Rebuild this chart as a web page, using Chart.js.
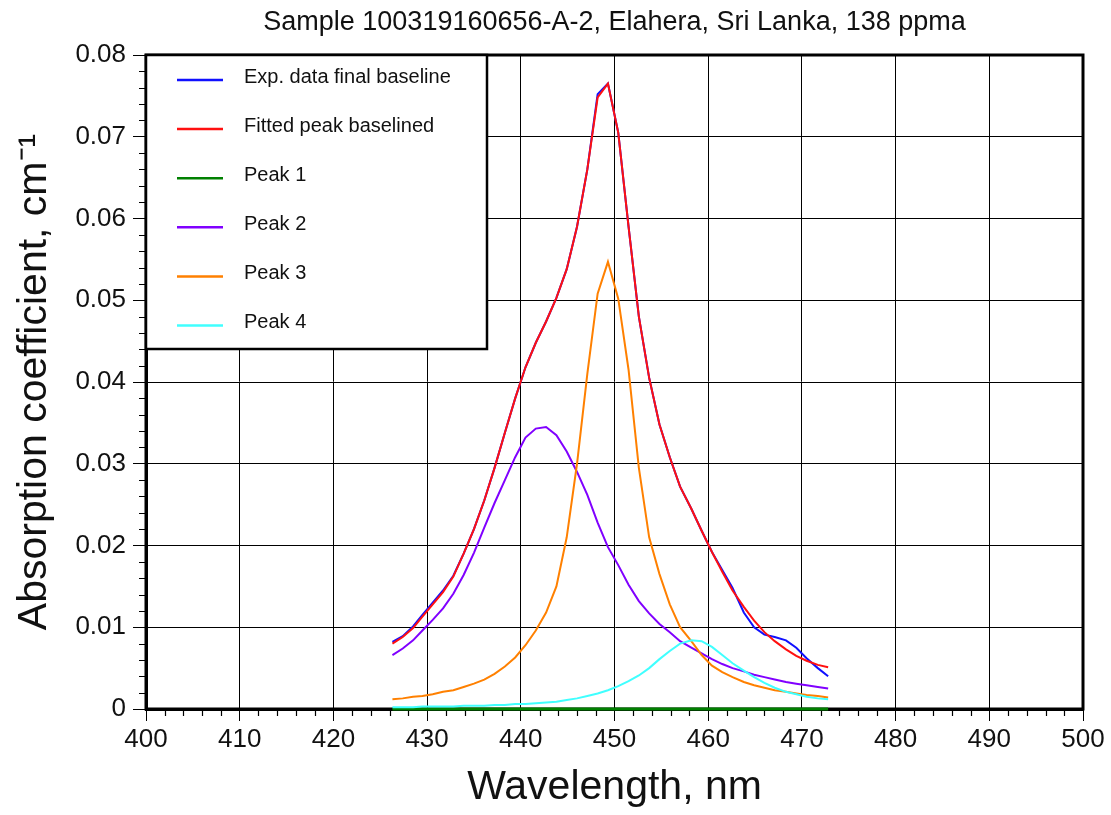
<!DOCTYPE html>
<html>
<head>
<meta charset="utf-8">
<script src="https://cdn.jsdelivr.net/npm/chart.js@4.4.1/dist/chart.umd.min.js"></script>
<style>
	html, body { margin: 0; padding: 0; background: #fff; }
	#wrap { width: 1111px; height: 815px; }
</style>
</head>
<body>
<div id="wrap"><canvas id="spectrum" width="1111" height="815"></canvas></div>
<script>
var titleText = 'Sample 100319160656-A-2, Elahera, Sri Lanka, 138 ppma';

var wavelength = [426.3, 427.4, 428.5, 429.5, 430.6, 431.7, 432.8, 433.9, 435.0, 436.1,
	437.2, 438.3, 439.4, 440.5, 441.6, 442.7, 443.8, 444.9, 446.0, 447.1,
	448.2, 449.3, 450.4, 451.5, 452.6, 453.7, 454.8, 455.9, 457.0, 458.2,
	459.3, 460.4, 461.5, 462.6, 463.8, 464.9, 466.0, 467.1, 468.3, 469.4,
	470.5, 471.7, 472.8];

var expData = [0.0082, 0.0089, 0.0101, 0.0115, 0.0130, 0.0145, 0.0163, 0.0190, 0.0220, 0.0255,
	0.0295, 0.0338, 0.0380, 0.0418, 0.0448, 0.0474, 0.0503, 0.0538, 0.0590, 0.0660,
	0.0752, 0.0765, 0.0705, 0.0590, 0.0480, 0.0405, 0.0348, 0.0308, 0.0272, 0.0245,
	0.0218, 0.0192, 0.0170, 0.0148, 0.0118, 0.0100, 0.0091, 0.0088, 0.0084, 0.0075,
	0.0062, 0.0050, 0.0040];

var fittedPeak = [0.0080, 0.0088, 0.0099, 0.0113, 0.0128, 0.0143, 0.0162, 0.0190, 0.0220, 0.0255,
	0.0295, 0.0338, 0.0380, 0.0418, 0.0448, 0.0474, 0.0503, 0.0538, 0.0590, 0.0660,
	0.0748, 0.0765, 0.0705, 0.0590, 0.0480, 0.0405, 0.0348, 0.0308, 0.0272, 0.0245,
	0.0218, 0.0192, 0.0168, 0.0145, 0.0125, 0.0108, 0.0094, 0.0083, 0.0073, 0.0065,
	0.0059, 0.0054, 0.0051];

var peak1 = [0, 0, 0, 0, 0, 0, 0, 0, 0, 0,
	0, 0, 0, 0, 0, 0, 0, 0, 0, 0,
	0, 0, 0, 0, 0, 0, 0, 0, 0, 0,
	0, 0, 0, 0, 0, 0, 0, 0, 0, 0,
	0, 0, 0];

var peak2 = [0.0066, 0.0074, 0.0084, 0.0096, 0.0109, 0.0123, 0.0141, 0.0164, 0.0191, 0.0222,
	0.0252, 0.0280, 0.0308, 0.0332, 0.0343, 0.0345, 0.0335, 0.0315, 0.0290, 0.0262,
	0.0228, 0.0198, 0.0176, 0.0152, 0.0132, 0.0117, 0.0104, 0.0094, 0.0083, 0.0075,
	0.0068, 0.0061, 0.0055, 0.0050, 0.0046, 0.0042, 0.0039, 0.0036, 0.0033, 0.0031,
	0.0029, 0.0027, 0.0025];

var peak3 = [0.0012, 0.0013, 0.0015, 0.0016, 0.0018, 0.0021, 0.0023, 0.0027, 0.0031, 0.0036,
	0.0043, 0.0052, 0.0063, 0.0078, 0.0096, 0.0118, 0.0150, 0.0210, 0.0300, 0.0410,
	0.0508, 0.0547, 0.0502, 0.0415, 0.0295, 0.0210, 0.0165, 0.0128, 0.0100, 0.0083,
	0.0066, 0.0053, 0.0045, 0.0039, 0.0033, 0.0029, 0.0026, 0.0023, 0.0021, 0.0019,
	0.0017, 0.0016, 0.0014];

var peak4 = [0.0002, 0.0002, 0.0002, 0.0003, 0.0003, 0.0003, 0.0003, 0.0004, 0.0004, 0.0004,
	0.0005, 0.0005, 0.0006, 0.0006, 0.0007, 0.0008, 0.0009, 0.0011, 0.0013, 0.0016,
	0.0019, 0.0023, 0.0028, 0.0034, 0.0041, 0.0050, 0.0061, 0.0071, 0.0080, 0.0084,
	0.0083, 0.0076, 0.0066, 0.0056, 0.0047, 0.0039, 0.0032, 0.0026, 0.0021, 0.0018,
	0.0015, 0.0013, 0.0012];

var seriesNames = ['Exp. data final baseline', 'Fitted peak baselined', 'Peak 1', 'Peak 2', 'Peak 3', 'Peak 4'];
var seriesColours = ['#1010ff', '#ff1010', '#008000', '#8000ff', '#ff8000', '#40ffff'];
var seriesValues = [expData, fittedPeak, peak1, peak2, peak3, peak4];

var xTicks = [400, 410, 420, 430, 440, 450, 460, 470, 480, 490, 500];
var yTicks = [0, 0.01, 0.02, 0.03, 0.04, 0.05, 0.06, 0.07, 0.08];

var fontFamily = "'Liberation Sans', Arial, Helvetica, sans-serif";

var toPoints = function(values) {
	var points = [];
	for (var i = 0; i < wavelength.length; i++) {
		points.push({ x: wavelength[i], y: values[i] });
	}
	return points;
};

var datasets = [];
for (var i = 0; i < seriesNames.length; i++) {
	datasets.push({
		label: seriesNames[i],
		data: toPoints(seriesValues[i]),
		borderColor: seriesColours[i],
		backgroundColor: seriesColours[i],
		borderWidth: i == 2 ? 3 : 2,
		pointRadius: 0,
		tension: 0,
		fill: false,
		clip: 6,
		order: seriesNames.length - i
	});
}

// frame round the plot + short minor ticks on the left and bottom
var framePlugin = {
	id: 'frame',
	beforeDatasetsDraw: function(chart) {
		var ctx = chart.ctx;
		var a = chart.chartArea;
		var xs = chart.scales.x;
		var ys = chart.scales.y;
		ctx.save();
		ctx.strokeStyle = '#000';
		ctx.lineWidth = 1.2;
		ctx.beginPath();
		for (var v = 402; v < 500; v += 2) {
			if (v % 10 == 0) continue;
			var px = Math.round(xs.getPixelForValue(v)) + 0.5;
			ctx.moveTo(px, a.bottom);
			ctx.lineTo(px, a.bottom + 7);
		}
		for (var k = 1; k < 40; k++) {
			if (k % 5 == 0) continue;
			var py = Math.round(ys.getPixelForValue(k * 0.002)) + 0.5;
			ctx.moveTo(a.left, py);
			ctx.lineTo(a.left - 7, py);
		}
		ctx.stroke();
		ctx.lineWidth = 3;
		ctx.strokeRect(a.left, a.top, a.right - a.left, a.bottom - a.top);
		ctx.restore();
	}
};

// legend box sitting in the upper left corner of the plot
var boxLegendPlugin = {
	id: 'boxLegend',
	afterDatasetsDraw: function(chart) {
		var ctx = chart.ctx;
		var a = chart.chartArea;
		var sets = chart.data.datasets;
		var boxW = 341, boxH = 294;
		ctx.save();
		ctx.fillStyle = '#fff';
		ctx.fillRect(a.left, a.top, boxW, boxH);
		ctx.strokeStyle = '#000';
		ctx.lineWidth = 2.5;
		ctx.strokeRect(a.left, a.top, boxW, boxH);
		ctx.font = '20px ' + fontFamily;
		ctx.textBaseline = 'middle';
		ctx.textAlign = 'left';
		for (var i = 0; i < sets.length; i++) {
			var y = a.top + 25 + i * 49.1;
			ctx.strokeStyle = sets[i].borderColor;
			ctx.lineWidth = 2.5;
			ctx.beginPath();
			ctx.moveTo(a.left + 31, y);
			ctx.lineTo(a.left + 77, y);
			ctx.stroke();
			ctx.fillStyle = '#111';
			ctx.fillText(sets[i].label, a.left + 98, y - 3);
		}
		ctx.restore();
	}
};

var config = {
	type: 'line',
	data: { datasets: datasets },
	options: {
		responsive: false,
		animation: false,
		layout: { padding: { left: 0, right: 28, top: 0, bottom: 0 } },
		plugins: {
			legend: { display: false },
			tooltip: { enabled: false },
			title: {
				display: true,
				text: titleText,
				fullSize: false,
				color: '#111',
				font: { family: fontFamily, size: 27, weight: 'normal' },
				padding: { top: 6, bottom: 16.6 }
			}
		},
		scales: {
			x: {
				type: 'linear',
				min: 400,
				max: 500,
				afterFit: function(scale) { scale.height = 106; },
				afterBuildTicks: function(scale) {
					scale.ticks = xTicks.map(function(v) { return { value: v }; });
				},
				ticks: {
					color: '#111',
					font: { family: fontFamily, size: 26 },
					padding: 3,
					maxRotation: 0
				},
				grid: { color: '#000', lineWidth: 1, tickLength: 12, tickColor: '#000' },
				border: { display: true, color: '#000', width: 3 },
				title: {
					display: true,
					text: 'Wavelength, nm',
					color: '#111',
					font: { family: fontFamily, size: 41 },
					padding: { top: 0, bottom: 3 }
				}
			},
			y: {
				type: 'linear',
				min: 0,
				max: 0.08,
				afterFit: function(scale) { scale.width = 146; },
				afterBuildTicks: function(scale) {
					scale.ticks = yTicks.map(function(v) { return { value: v }; });
				},
				ticks: {
					color: '#111',
					font: { family: fontFamily, size: 26 },
					padding: 7,
					callback: function(v) { return v == 0 ? '0' : v.toFixed(2); }
				},
				grid: { color: '#000', lineWidth: 1, tickLength: 13, tickColor: '#000' },
				border: { display: true, color: '#000', width: 3 },
				title: {
					display: true,
					text: 'Absorption coefficient, cm\u207B\u00B9',
					color: '#111',
					font: { family: fontFamily, size: 41 },
					padding: { top: 10, bottom: 0 }
				}
			}
		}
	},
	plugins: [framePlugin, boxLegendPlugin]
};

var ctx = document.getElementById('spectrum').getContext('2d');
window.spectrumChart = new Chart(ctx, config);
</script>
</body>
</html>
